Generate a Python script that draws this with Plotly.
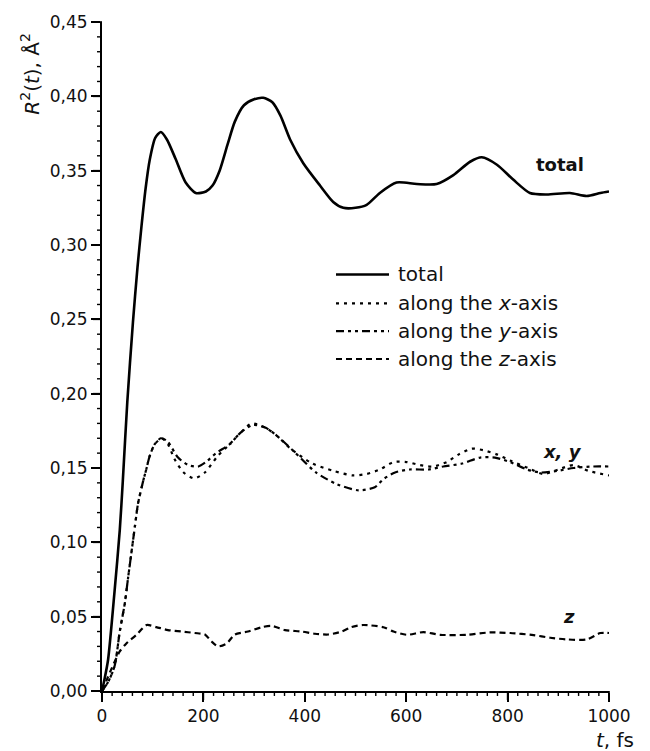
import plotly.graph_objects as go

# ---------------- data ----------------
t_total = [0, 5, 12, 25, 35, 41, 50, 61, 70, 78, 86, 94, 105, 116, 128, 145, 165, 185, 205, 218,
           232, 248, 262, 280, 300, 318, 336, 352, 371, 397, 430, 456, 476, 500, 522, 548, 581,
           621, 660, 693, 726, 749, 779, 811, 844, 877, 923, 956, 983, 1000]
r_total = [0, 0.008, 0.021, 0.068, 0.108, 0.141, 0.195, 0.248, 0.285, 0.313, 0.338, 0.357, 0.372,
           0.376, 0.371, 0.358, 0.342, 0.335, 0.336, 0.340, 0.350, 0.368, 0.383, 0.394, 0.398,
           0.399, 0.396, 0.387, 0.371, 0.355, 0.340, 0.329, 0.325, 0.325, 0.327, 0.335, 0.342,
           0.341, 0.341, 0.347, 0.356, 0.359, 0.354, 0.344, 0.335, 0.334, 0.335, 0.333, 0.335,
           0.336]

t_x = [0, 12, 25, 35, 45, 51, 58, 65, 71, 81, 88, 94, 104, 118, 130, 143, 161, 182, 203, 228,
       252, 274, 295, 323, 344, 372, 415, 457, 495, 522, 548, 575, 601, 627, 653, 680, 703, 729,
       752, 780, 805, 840, 870, 900, 930, 960, 1000]
r_x = [0, 0.006, 0.017, 0.040, 0.059, 0.075, 0.093, 0.111, 0.126, 0.141, 0.150, 0.158, 0.166,
       0.170, 0.166, 0.156, 0.147, 0.143, 0.147, 0.158, 0.166, 0.174, 0.180, 0.177, 0.172,
       0.163, 0.153, 0.148, 0.145, 0.146, 0.149, 0.154, 0.154, 0.152, 0.151, 0.154, 0.159,
       0.163, 0.162, 0.159, 0.155, 0.150, 0.146, 0.149, 0.152, 0.148, 0.145]

t_y = [0, 12, 25, 35, 45, 51, 58, 65, 71, 81, 88, 94, 104, 116, 129, 150, 170, 190, 205, 225,
       252, 274, 298, 323, 344, 379, 422, 464, 506, 538, 555, 578, 607, 644, 673, 710, 746, 775,
       805, 838, 864, 897, 930, 969, 1000]
r_y = [0, 0.006, 0.017, 0.040, 0.059, 0.075, 0.093, 0.111, 0.126, 0.141, 0.150, 0.158, 0.166,
       0.170, 0.168, 0.157, 0.152, 0.151, 0.154, 0.160, 0.166, 0.174, 0.179, 0.177, 0.172,
       0.161, 0.147, 0.139, 0.135, 0.137, 0.1425, 0.147, 0.149, 0.149, 0.151, 0.153, 0.157,
       0.157, 0.154, 0.149, 0.147, 0.148, 0.150, 0.151, 0.151]

t_z = [0, 10, 18, 35, 48, 68, 88, 107, 130, 157, 183, 203, 216, 229, 246, 262, 288, 315, 334,
       361, 394, 420, 446, 473, 492, 515, 555, 575, 601, 634, 667, 719, 765, 805, 851, 884, 917,
       956, 983, 1000]
r_z = [0, 0.008, 0.0144, 0.0266, 0.032, 0.0378, 0.0444, 0.043, 0.041, 0.040, 0.039, 0.038,
       0.0333, 0.030, 0.032, 0.038, 0.040, 0.0429, 0.0438, 0.041, 0.040, 0.0385, 0.038, 0.040,
       0.043, 0.0444, 0.0429, 0.040, 0.0378, 0.0396, 0.0378, 0.0378, 0.0394, 0.039, 0.0376,
       0.0358, 0.0347, 0.0347, 0.039, 0.039]

x_tick_vals = [0, 200, 400, 600, 800, 1000]
y_tick_vals = [0.00, 0.05, 0.10, 0.15, 0.20, 0.25, 0.30, 0.35, 0.40, 0.45]
# tick labels use a decimal comma: "0,00", "0,05", ... "0,45"

legend_labels = ["total", "along the <i>x</i>-axis", "along the <i>y</i>-axis", "along the <i>z</i>-axis"]

# ---------------- styling ----------------
W, H = 650, 751
ML, MR, MT, MB = 102, 41, 18, 60
PW, PH = W - ML - MR, H - MT - MB
FONT = "DejaVu Sans"

DASH_TOTAL = "solid"
DASH_X = "3px,5px"
DASH_Y = "8px,4px,3px,4px,3px,4px"
DASH_Z = "6px,4px"
dashes = [DASH_TOTAL, DASH_X, DASH_Y, DASH_Z]
widths = [2.6, 2.2, 2.2, 2.2]

MAJOR_LEN, MINOR_LEN = 9, 5
x_minor_step, y_minor_step = 20, 0.01


def px2paper(px, py):
    return (px - ML) / PW, (H - MB - py) / PH


fig = go.Figure()
for tt, rr, d, w in [(t_total, r_total, DASH_TOTAL, 2.6), (t_x, r_x, DASH_X, 2.2),
                     (t_y, r_y, DASH_Y, 2.2), (t_z, r_z, DASH_Z, 2.2)]:
    fig.add_trace(go.Scatter(x=tt, y=rr, mode="lines",
                             line=dict(color="black", width=w, dash=d, shape="spline", smoothing=0.7),
                             showlegend=False, hoverinfo="skip"))

axis_common = dict(showgrid=False, zeroline=False, showline=True, linewidth=2, linecolor="black",
                   ticks="outside", ticklen=MAJOR_LEN, tickwidth=1.6, tickcolor="black",
                   mirror=False, tickfont=dict(family=FONT, size=17, color="#111"))

xr = [x_tick_vals[0], x_tick_vals[-1]]
yr = [y_tick_vals[0], y_tick_vals[-1]]

fig.update_layout(
    xaxis=dict(range=xr, tickmode="linear", tick0=x_tick_vals[0],
               dtick=x_tick_vals[1] - x_tick_vals[0], tickformat="d", **axis_common),
    yaxis=dict(range=yr, tickmode="linear", tick0=y_tick_vals[0],
               dtick=y_tick_vals[1] - y_tick_vals[0], tickformat=".2f", **axis_common),
)

annotations = []
shapes = []

# tick marks (major + minor) as paper-space lines along the linear axes
x_major_every = int(round((x_tick_vals[1] - x_tick_vals[0]) / x_minor_step))
n_xminor = int(round((xr[1] - xr[0]) / x_minor_step))
for i in range(n_xminor + 1):
    f = i * x_minor_step / (xr[1] - xr[0])
    major = (i % x_major_every == 0)
    L = MAJOR_LEN if major else MINOR_LEN
    shapes.append(dict(type="line", xref="paper", yref="paper",
                       x0=f, x1=f, y0=0, y1=-L / PH, layer="above",
                       line=dict(color="black", width=1.6 if major else 1.4)))
y_major_every = int(round((y_tick_vals[1] - y_tick_vals[0]) / y_minor_step))
n_yminor = int(round((yr[1] - yr[0]) / y_minor_step))
for i in range(n_yminor + 1):
    f = i * y_minor_step / (yr[1] - yr[0])
    major = (i % y_major_every == 0)
    L = MAJOR_LEN if major else MINOR_LEN
    shapes.append(dict(type="line", xref="paper", yref="paper",
                       x0=0, x1=-L / PW, y0=f, y1=f, layer="above",
                       line=dict(color="black", width=1.6 if major else 1.4)))

# manual legend
rows_py = [272, 301, 329, 357]
for lab, d, w, py in zip(legend_labels, dashes, widths, rows_py):
    x0, y0 = px2paper(336, py)
    x1, _ = px2paper(389, py)
    shapes.append(dict(type="line", xref="paper", yref="paper", x0=x0, x1=x1, y0=y0, y1=y0,
                       line=dict(color="black", width=w, dash=d)))
    tx, ty = px2paper(396, py)
    annotations.append(dict(xref="paper", yref="paper", x=tx, y=ty, text=lab, showarrow=False,
                            xanchor="left", yanchor="middle",
                            font=dict(family=FONT, size=20, color="#111")))

# curve labels
annotations.append(dict(x=904, y=0.354, text="<b>total</b>", showarrow=False,
                        font=dict(family=FONT, size=18, color="#111")))
annotations.append(dict(x=909, y=0.161, text="<b><i>x, y</i></b>", showarrow=False,
                        font=dict(family=FONT, size=18, color="#111")))
annotations.append(dict(x=921, y=0.050, text="<b><i>z</i></b>", showarrow=False,
                        font=dict(family=FONT, size=18, color="#111")))

# axis titles
yx, yy = px2paper(30, 70)
annotations.append(dict(xref="paper", yref="paper", x=yx, y=yy, textangle=-90,
                        text="<i>R</i><sup>2</sup>(<i>t</i>), Å<sup>2</sup>", showarrow=False,
                        xanchor="center", yanchor="middle",
                        font=dict(family=FONT, size=20, color="#111")))
xx, xy = px2paper(615, 740)
annotations.append(dict(xref="paper", yref="paper", x=xx, y=xy, text="<i>t</i>, fs",
                        showarrow=False, xanchor="center", yanchor="middle",
                        font=dict(family=FONT, size=20, color="#111")))

fig.update_layout(width=W, height=H, margin=dict(l=ML, r=MR, t=MT, b=MB, pad=0),
                  separators=",.",
                  plot_bgcolor="white", paper_bgcolor="white", showlegend=False,
                  annotations=annotations, shapes=shapes)

fig.write_html("out.html")
